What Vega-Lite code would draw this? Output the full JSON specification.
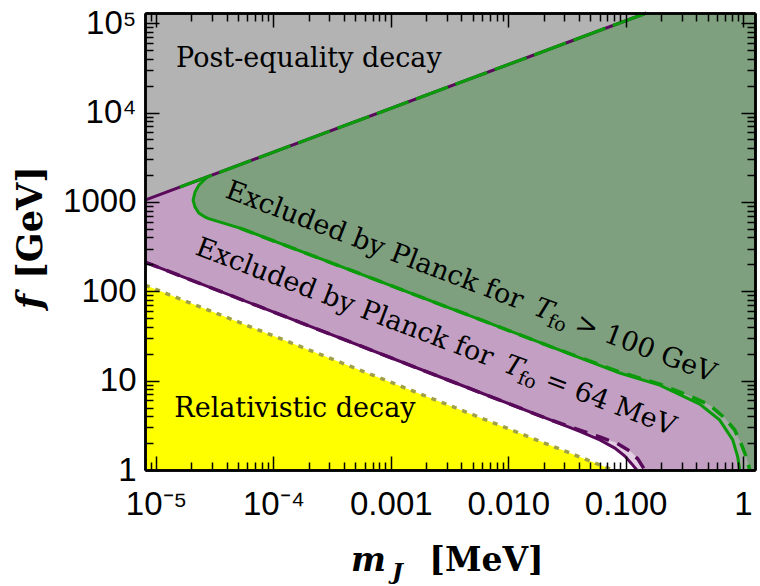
{
 "$schema": "https://vega.github.io/schema/vega-lite/v6.json",
 "width": 610, "height": 457,
 "autosize": {"type": "none"},
 "padding": {"left": 145, "top": 13, "right": 5, "bottom": 116},
 "background": "white",
 "config": {
  "view": {"stroke": null},
  "axis": {"grid": false, "zindex": 1, "domainColor": "black", "domainWidth": 2.5, "tickColor": "black", "tickWidth": 1.5,
           "labelColor": "black", "titleColor": "black", "labelFont": "Liberation Sans", "labelFontSize": 33,
           "labelFlush": false, "labelOverlap": false, "titleFont": "DejaVu Serif", "titleFontSize": 33,
           "titleFontWeight": "bold", "titleAlign": "center", "titleBaseline": "alphabetic"}
 },
 "datasets": {
  "purple": [
   {"m": 8.06e-6, "lo": 212.1, "hi": 130000}, {"m": 1.683e-4, "lo": 44.9, "hi": 130000},
   {"m": 3.185e-3, "lo": 9.97, "hi": 130000}, {"m": 0.0226, "lo": 3.66, "hi": 130000},
   {"m": 0.0407, "lo": 2.70, "hi": 130000}, {"m": 0.0603, "lo": 2.17, "hi": 130000},
   {"m": 0.0809, "lo": 1.76, "hi": 130000}, {"m": 0.0985, "lo": 1.43, "hi": 130000},
   {"m": 0.1129, "lo": 1.17, "hi": 130000}, {"m": 0.1245, "lo": 1, "hi": 130000},
   {"m": 1.265, "lo": 1, "hi": 130000}
  ],
  "pale": [
   {"m": 0.0226, "lo": 3.66, "hi": 3.66}, {"m": 0.0407, "lo": 2.70, "hi": 2.80},
   {"m": 0.0603, "lo": 2.17, "hi": 2.34}, {"m": 0.0809, "lo": 1.76, "hi": 2.04},
   {"m": 0.0985, "lo": 1.43, "hi": 1.76}, {"m": 0.1129, "lo": 1.17, "hi": 1.57},
   {"m": 0.1245, "lo": 1, "hi": 1.38}, {"m": 0.1269, "lo": 1, "hi": 1.33},
   {"m": 0.1456, "lo": 1, "hi": 1}
  ],
  "greenband": [
   {"m": 2.07e-5, "lo": 1047, "hi": 1047}, {"m": 2.15e-5, "lo": 874.8, "hi": 1287},
   {"m": 2.32e-5, "lo": 749.4, "hi": 1541}, {"m": 2.61e-5, "lo": 679, "hi": 1799},
   {"m": 2.77e-5, "lo": 653, "hi": 1919}, {"m": 3.30e-5, "lo": 609.9, "hi": 130000},
   {"m": 5.19e-5, "lo": 509.2, "hi": 130000}, {"m": 1.383e-4, "lo": 312.1, "hi": 130000},
   {"m": 3.685e-4, "lo": 191.3, "hi": 130000}, {"m": 3.184e-3, "lo": 64.9, "hi": 130000},
   {"m": 0.02751, "lo": 22.0, "hi": 130000}, {"m": 0.0892, "lo": 12.16, "hi": 130000},
   {"m": 0.1953, "lo": 8.93, "hi": 130000}, {"m": 0.428, "lo": 5.47, "hi": 130000},
   {"m": 0.6333, "lo": 3.62, "hi": 130000}, {"m": 0.8175, "lo": 2.17, "hi": 130000},
   {"m": 0.9014, "lo": 1.40, "hi": 130000}, {"m": 0.9375, "lo": 1, "hi": 130000},
   {"m": 1.265, "lo": 1, "hi": 130000}
  ],
  "green": [
   {"m": 2.07e-5, "lo": 1047, "hi": 1047}, {"m": 2.15e-5, "lo": 874.8, "hi": 1287},
   {"m": 2.32e-5, "lo": 749.4, "hi": 1541}, {"m": 2.61e-5, "lo": 679, "hi": 1799},
   {"m": 2.77e-5, "lo": 653, "hi": 1919}, {"m": 3.30e-5, "lo": 609.9, "hi": 130000},
   {"m": 5.19e-5, "lo": 509.2, "hi": 130000}, {"m": 1.383e-4, "lo": 312.1, "hi": 130000},
   {"m": 3.685e-4, "lo": 191.3, "hi": 130000}, {"m": 3.184e-3, "lo": 64.9, "hi": 130000},
   {"m": 0.02751, "lo": 22.0, "hi": 130000}, {"m": 0.0892, "lo": 12.48, "hi": 130000},
   {"m": 0.1953, "lo": 9.16, "hi": 130000}, {"m": 0.3517, "lo": 6.73, "hi": 130000},
   {"m": 0.5207, "lo": 5.33, "hi": 130000}, {"m": 0.6983, "lo": 3.82, "hi": 130000},
   {"m": 0.8502, "lo": 2.80, "hi": 130000}, {"m": 0.9747, "lo": 1.90, "hi": 130000},
   {"m": 1.075, "lo": 1.36, "hi": 130000}, {"m": 1.140, "lo": 1, "hi": 130000},
   {"m": 1.265, "lo": 1, "hi": 130000}
  ],
  "gray": [{"m": 8.06e-6, "lo": 1047, "hi": 130000}, {"m": 0.1504, "lo": 130000, "hi": 130000}],
  "yellow": [{"m": 8.06e-6, "lo": 1, "hi": 117.3}, {"m": 0.0777, "lo": 1, "hi": 1}],
  "topline": [{"m": 8.06e-6, "f": 1047}, {"m": 0.1504, "f": 130000}],
  "topgreen": [{"m": 1.6e-5, "f": 1466}, {"m": 0.1504, "f": 130000}],
  "greensolid": [
   {"i": 1, "m": 2.77e-5, "f": 1919}, {"i": 2, "m": 2.61e-5, "f": 1799}, {"i": 3, "m": 2.32e-5, "f": 1541},
   {"i": 4, "m": 2.15e-5, "f": 1287}, {"i": 5, "m": 2.07e-5, "f": 1047}, {"i": 6, "m": 2.15e-5, "f": 874.8},
   {"i": 7, "m": 2.32e-5, "f": 749.4}, {"i": 8, "m": 2.61e-5, "f": 679}, {"i": 9, "m": 2.77e-5, "f": 653},
   {"i": 10, "m": 3.30e-5, "f": 609.9}, {"i": 11, "m": 5.19e-5, "f": 509.2}, {"i": 12, "m": 1.383e-4, "f": 312.1},
   {"i": 13, "m": 3.685e-4, "f": 191.3}, {"i": 14, "m": 3.184e-3, "f": 64.9}, {"i": 15, "m": 0.02751, "f": 22.0},
   {"i": 16, "m": 0.0892, "f": 12.16}, {"i": 17, "m": 0.1953, "f": 8.93}, {"i": 18, "m": 0.428, "f": 5.47},
   {"i": 19, "m": 0.6333, "f": 3.62}, {"i": 20, "m": 0.8175, "f": 2.17}, {"i": 21, "m": 0.9014, "f": 1.40},
   {"i": 22, "m": 0.9375, "f": 1}
  ],
  "greendashed": [
   {"m": 5.19e-5, "f": 509.2}, {"m": 1.383e-4, "f": 312.1}, {"m": 3.685e-4, "f": 191.3}, {"m": 3.184e-3, "f": 64.9},
   {"m": 0.02751, "f": 22.0}, {"m": 0.0892, "f": 12.48}, {"m": 0.1953, "f": 9.16}, {"m": 0.3517, "f": 6.73},
   {"m": 0.5207, "f": 5.33}, {"m": 0.6983, "f": 3.82}, {"m": 0.8502, "f": 2.80}, {"m": 0.9747, "f": 1.90},
   {"m": 1.075, "f": 1.36}, {"m": 1.140, "f": 1}
  ],
  "purplesolid": [
   {"m": 8.06e-6, "f": 212.1}, {"m": 1.683e-4, "f": 44.9}, {"m": 3.185e-3, "f": 9.97}, {"m": 0.0226, "f": 3.66},
   {"m": 0.0407, "f": 2.70}, {"m": 0.0603, "f": 2.17}, {"m": 0.0809, "f": 1.76}, {"m": 0.0985, "f": 1.43},
   {"m": 0.1129, "f": 1.17}, {"m": 0.1245, "f": 1}
  ],
  "purpledashed": [
   {"m": 8.06e-6, "f": 212.1}, {"m": 1.683e-4, "f": 44.9}, {"m": 3.185e-3, "f": 9.97}, {"m": 0.0226, "f": 3.66},
   {"m": 0.0407, "f": 2.80}, {"m": 0.0603, "f": 2.34}, {"m": 0.0841, "f": 2.00}, {"m": 0.1085, "f": 1.63},
   {"m": 0.1269, "f": 1.33}, {"m": 0.1456, "f": 1}
  ],
  "yellowline": [{"m": 8.06e-6, "f": 117.3}, {"m": 0.0777, "f": 1}],
  "flatlabels": [
   {"m": 2.007e-4, "f": 32210, "t": "Post-equality decay"},
   {"m": 1.525e-4, "f": 3.915, "t": "Relativistic decay"}
  ],
  "rotlabels": [
   {"m": 3.792e-5, "f": 1132, "t": "Excluded by Planck for"},
   {"m": 0.03591, "f": 37.0, "t": "> 100 GeV"},
   {"m": 2.106e-5, "f": 260.7, "t": "Excluded by Planck for"},
   {"m": 0.01994, "f": 8.52, "t": "= 64 MeV"}
  ],
  "rotT": [{"m": 0.01605, "f": 55.3, "t": "T"}, {"m": 8.913e-3, "f": 12.74, "t": "T"}],
  "rotsub": [{"m": 0.02103, "f": 41.0, "t": "fo"}, {"m": 0.01168, "f": 9.45, "t": "fo"}]
 },
 "resolve": {"axis": {"x": "independent", "y": "independent"}},
 "layer": [
  {
   "data": {"name": "purple"},
   "mark": {"type": "area", "color": "#c3a0c3", "opacity": 1},
   "encoding": {
    "x": {"field": "m", "type": "quantitative", "scale": {"type": "log", "domain": [8.06e-6, 1.265], "nice": false},
          "axis": {"orient": "bottom", "zindex": 2, "values": [1e-5, 1e-4, 0.001, 0.01, 0.1, 1],
                   "labelExpr": "datum.value < 3e-5 ? '10\u207b\u2075' : datum.value < 3e-4 ? '10\u207b\u2074' : datum.value < 3e-3 ? '0.001' : datum.value < 3e-2 ? '0.010' : datum.value < 0.3 ? '0.100' : '1'",
                   "tickSize": -14, "labelPadding": 32, "labelAlign": "center", "labelBaseline": "top",
                   "title": "m", "titleFontStyle": "italic", "titleX": 223, "titleY": 100, "titleAngle": 0}},
    "y": {"field": "lo", "type": "quantitative", "scale": {"type": "log", "domain": [1, 130000], "nice": false},
          "axis": {"orient": "left", "zindex": 2, "values": [1, 10, 100, 1000, 10000, 100000],
                   "labelExpr": "datum.value < 3 ? '1' : datum.value < 30 ? '10' : datum.value < 300 ? '100' : datum.value < 3000 ? '1000' : datum.value < 30000 ? '10\u2074' : '10\u2075'",
                   "tickSize": -14, "labelPadding": 23, "labelAlign": "right", "labelBaseline": "middle",
                   "title": "f", "titleFontStyle": "italic", "titleFontSize": 35, "titleAngle": 270, "titleX": -104, "titleY": 288}},
    "y2": {"field": "hi"}
   }
  },
  {
   "data": {"name": "pale"},
   "mark": {"type": "area", "color": "#e3cfe3", "opacity": 1},
   "encoding": {
    "x": {"field": "m", "type": "quantitative", "scale": {"type": "log", "domain": [8.06e-6, 1.265], "nice": false},
          "axis": {"orient": "bottom", "zindex": 2, "labels": false, "tickSize": -8,
                   "values": [9e-6, 2e-5, 3e-5, 4e-5, 5e-5, 6e-5, 7e-5, 8e-5, 9e-5, 2e-4, 3e-4, 4e-4, 5e-4, 6e-4, 7e-4, 8e-4, 9e-4, 0.002, 0.003, 0.004, 0.005, 0.006, 0.007, 0.008, 0.009, 0.02, 0.03, 0.04, 0.05, 0.06, 0.07, 0.08, 0.09, 0.2, 0.3, 0.4, 0.5, 0.6, 0.7, 0.8, 0.9],
                   "title": "J", "titleFontStyle": "italic", "titleFontSize": 23, "titleX": 252, "titleY": 108, "titleAngle": 0}},
    "y": {"field": "lo", "type": "quantitative", "scale": {"type": "log", "domain": [1, 130000], "nice": false},
          "axis": {"orient": "left", "zindex": 2, "labels": false, "tickSize": -8,
                   "values": [2, 3, 4, 5, 6, 7, 8, 9, 20, 30, 40, 50, 60, 70, 80, 90, 200, 300, 400, 500, 600, 700, 800, 900, 2000, 3000, 4000, 5000, 6000, 7000, 8000, 9000, 20000, 30000, 40000, 50000, 60000, 70000, 80000, 90000],
                   "title": "[GeV]", "titleFontSize": 35, "titleAngle": 270, "titleX": -104, "titleY": 209}},
    "y2": {"field": "hi"}
   }
  },
  {
   "data": {"name": "greenband"},
   "mark": {"type": "area", "color": "#a6aba6", "opacity": 1},
   "encoding": {
    "x": {"field": "m", "type": "quantitative", "scale": {"type": "log", "domain": [8.06e-6, 1.265], "nice": false},
          "axis": {"orient": "top", "zindex": 2, "labels": false, "tickSize": -14, "values": [1e-5, 1e-4, 0.001, 0.01, 0.1, 1],
                   "title": "[MeV]", "titleX": 341, "titleY": 557, "titleAngle": 0}},
    "y": {"field": "lo", "type": "quantitative", "scale": {"type": "log", "domain": [1, 130000], "nice": false},
          "axis": {"orient": "right", "zindex": 2, "labels": false, "tickSize": -14, "values": [1, 10, 100, 1000, 10000, 100000], "title": null}},
    "y2": {"field": "hi"}
   }
  },
  {
   "data": {"name": "green"},
   "mark": {"type": "area", "color": "#7ea07e", "opacity": 1},
   "encoding": {
    "x": {"field": "m", "type": "quantitative", "scale": {"type": "log", "domain": [8.06e-6, 1.265], "nice": false},
          "axis": {"orient": "top", "zindex": 2, "labels": false, "tickSize": -8, "title": null,
                   "values": [9e-6, 2e-5, 3e-5, 4e-5, 5e-5, 6e-5, 7e-5, 8e-5, 9e-5, 2e-4, 3e-4, 4e-4, 5e-4, 6e-4, 7e-4, 8e-4, 9e-4, 0.002, 0.003, 0.004, 0.005, 0.006, 0.007, 0.008, 0.009, 0.02, 0.03, 0.04, 0.05, 0.06, 0.07, 0.08, 0.09, 0.2, 0.3, 0.4, 0.5, 0.6, 0.7, 0.8, 0.9]}},
    "y": {"field": "lo", "type": "quantitative", "scale": {"type": "log", "domain": [1, 130000], "nice": false},
          "axis": {"orient": "right", "zindex": 2, "labels": false, "tickSize": -8, "title": null,
                   "values": [2, 3, 4, 5, 6, 7, 8, 9, 20, 30, 40, 50, 60, 70, 80, 90, 200, 300, 400, 500, 600, 700, 800, 900, 2000, 3000, 4000, 5000, 6000, 7000, 8000, 9000, 20000, 30000, 40000, 50000, 60000, 70000, 80000, 90000]}},
    "y2": {"field": "hi"}
   }
  },
  {
   "data": {"name": "gray"},
   "mark": {"type": "area", "color": "#b3b3b3", "opacity": 1},
   "encoding": {
    "x": {"field": "m", "type": "quantitative", "axis": null},
    "y": {"field": "lo", "type": "quantitative", "axis": null},
    "y2": {"field": "hi"}
   }
  },
  {
   "data": {"name": "yellow"},
   "mark": {"type": "area", "color": "#ffff00", "opacity": 1},
   "encoding": {
    "x": {"field": "m", "type": "quantitative", "axis": null},
    "y": {"field": "lo", "type": "quantitative", "axis": null},
    "y2": {"field": "hi"}
   }
  },
  {
   "data": {"name": "yellowline"},
   "mark": {"type": "line", "color": "#a0a046", "strokeWidth": 3.5, "strokeDash": [5, 6]},
   "encoding": {"x": {"field": "m", "type": "quantitative", "axis": null}, "y": {"field": "f", "type": "quantitative", "axis": null}}
  },
  {
   "data": {"name": "purplesolid"},
   "mark": {"type": "line", "color": "#5a0a5a", "strokeWidth": 3},
   "encoding": {"x": {"field": "m", "type": "quantitative", "axis": null}, "y": {"field": "f", "type": "quantitative", "axis": null}}
  },
  {
   "data": {"name": "purpledashed"},
   "mark": {"type": "line", "color": "#5a0a5a", "strokeWidth": 3.5, "strokeDash": [14, 9]},
   "encoding": {"x": {"field": "m", "type": "quantitative", "axis": null}, "y": {"field": "f", "type": "quantitative", "axis": null}}
  },
  {
   "data": {"name": "greensolid"},
   "mark": {"type": "line", "color": "#0a9a0a", "strokeWidth": 3},
   "encoding": {"x": {"field": "m", "type": "quantitative", "axis": null}, "y": {"field": "f", "type": "quantitative", "axis": null},
                "order": {"field": "i", "type": "quantitative"}}
  },
  {
   "data": {"name": "greendashed"},
   "mark": {"type": "line", "color": "#0a9a0a", "strokeWidth": 3.5, "strokeDash": [14, 9]},
   "encoding": {"x": {"field": "m", "type": "quantitative", "axis": null}, "y": {"field": "f", "type": "quantitative", "axis": null}}
  },
  {
   "data": {"name": "topline"},
   "mark": {"type": "line", "color": "#5a0a5a", "strokeWidth": 3},
   "encoding": {"x": {"field": "m", "type": "quantitative", "axis": null}, "y": {"field": "f", "type": "quantitative", "axis": null}}
  },
  {
   "data": {"name": "topgreen"},
   "mark": {"type": "line", "color": "#0a9a0a", "strokeWidth": 3.2, "strokeDash": [34, 8]},
   "encoding": {"x": {"field": "m", "type": "quantitative", "axis": null}, "y": {"field": "f", "type": "quantitative", "axis": null}}
  },
  {
   "data": {"name": "flatlabels"},
   "mark": {"type": "text", "font": "DejaVu Serif", "fontSize": 27, "color": "black", "align": "center", "baseline": "alphabetic"},
   "encoding": {"x": {"field": "m", "type": "quantitative", "axis": null}, "y": {"field": "f", "type": "quantitative", "axis": null},
                "text": {"field": "t"}}
  },
  {
   "data": {"name": "rotlabels"},
   "mark": {"type": "text", "font": "DejaVu Serif", "fontSize": 27, "color": "black", "align": "left", "baseline": "alphabetic", "angle": 20.8},
   "encoding": {"x": {"field": "m", "type": "quantitative", "axis": null}, "y": {"field": "f", "type": "quantitative", "axis": null},
                "text": {"field": "t"}}
  },
  {
   "data": {"name": "rotT"},
   "mark": {"type": "text", "font": "DejaVu Serif", "fontSize": 27, "fontStyle": "italic", "color": "black", "align": "left", "baseline": "alphabetic", "angle": 20.8},
   "encoding": {"x": {"field": "m", "type": "quantitative", "axis": null}, "y": {"field": "f", "type": "quantitative", "axis": null},
                "text": {"field": "t"}}
  },
  {
   "data": {"name": "rotsub"},
   "mark": {"type": "text", "font": "DejaVu Serif", "fontSize": 19, "color": "black", "align": "left", "baseline": "alphabetic", "angle": 20.8},
   "encoding": {"x": {"field": "m", "type": "quantitative", "axis": null}, "y": {"field": "f", "type": "quantitative", "axis": null},
                "text": {"field": "t"}}
  }
 ]
}
